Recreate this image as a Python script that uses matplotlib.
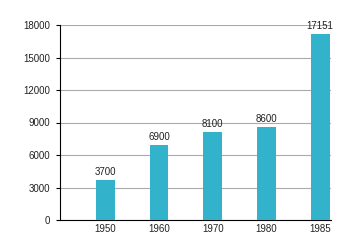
import matplotlib
matplotlib.use("Agg")
import matplotlib.pyplot as plt

years = ["1950", "1960", "1970", "1980", "1985"]
values = [3700, 6900, 8100, 8600, 17151]
yticks = [0, 3000, 6000, 9000, 12000, 15000, 18000]

plt.rcParams['font.family'] = ['Liberation Sans', 'DejaVu Sans']
fig = plt.figure(figsize=(3.6, 2.5), dpi=100)
ax = fig.add_axes([60/360, 30/250, 271/360, 195/250])
x = list(range(len(years)))
ax.bar(x, values, width=0.35, color="#33b3cb", zorder=3)
for xi, v in zip(x, values):
    ax.text(xi, v + 300, str(v), ha="center", va="bottom", fontsize=7, color="#222222")
ax.set_xlim(-0.84, 4.2)
ax.set_ylim(0, 18000)
ax.set_yticks(yticks)
ax.set_yticklabels([str(t) for t in yticks], fontsize=7, color="#222222")
ax.set_xticks(x)
ax.set_xticklabels(years, fontsize=7, color="#222222")
ax.grid(axis="y", color="#aaaaaa", linewidth=0.8, zorder=0)
for s in ["top", "right"]:
    ax.spines[s].set_visible(False)
ax.spines["left"].set_color("black")
ax.spines["bottom"].set_color("black")
ax.tick_params(axis="x", length=0, pad=3)
ax.tick_params(axis="y", length=3, pad=4)
fig.savefig("out.png", dpi=100)
